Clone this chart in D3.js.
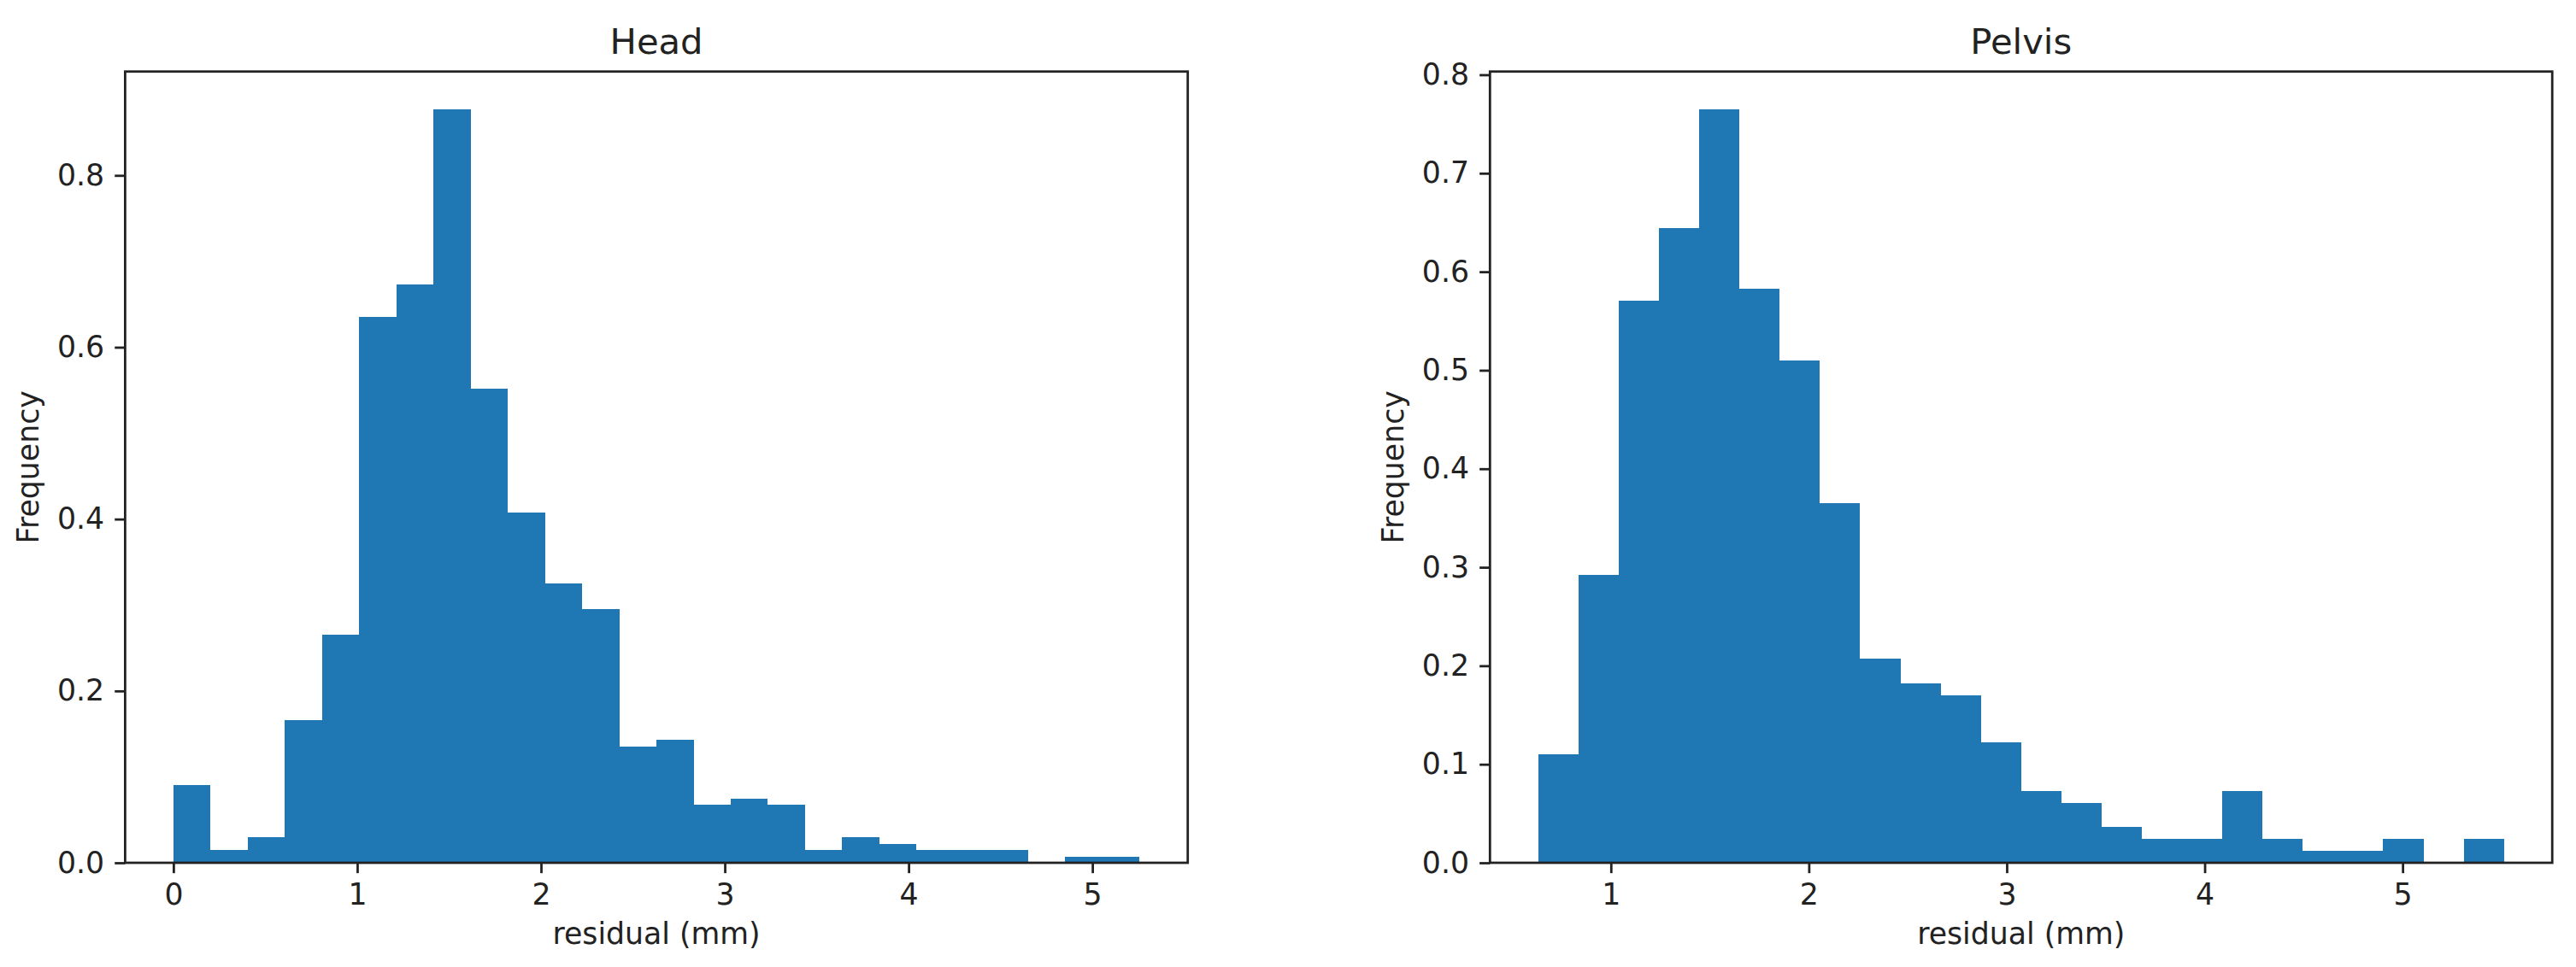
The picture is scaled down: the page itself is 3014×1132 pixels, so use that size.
<!DOCTYPE html>
<html>
<head>
<meta charset="utf-8">
<script src="https://cdn.jsdelivr.net/npm/d3@7"></script>
<style>
  html, body { margin: 0; padding: 0; background: #fff; }
  svg { display: block; }
  text { font-family: "DejaVu Sans", sans-serif; fill: #222; }
</style>
</head>
<body>
<svg id="chart" width="3014" height="1132"></svg>
<script>
// ---------- data ----------
const titles = ["Head", "Pelvis"];
const xLabel = "residual (mm)";
const yLabel = "Frequency";

// Head histogram: 26 bins spanning 0 .. 5.256 mm (density)
const headRange = [0, 5.256];
const headDensity = [0.090, 0.015, 0.030, 0.166, 0.265, 0.635, 0.673, 0.877, 0.552, 0.408,
                     0.325, 0.295, 0.135, 0.143, 0.068, 0.075, 0.068, 0.015, 0.030, 0.022,
                     0.015, 0.015, 0.015, 0.000, 0.007, 0.007];
const headXTicks = [0, 1, 2, 3, 4, 5];
const headYTicks = [0.0, 0.2, 0.4, 0.6, 0.8];

// Pelvis histogram: 24 bins spanning 0.633 .. 5.512 mm (density)
const pelvisRange = [0.633, 5.512];
const pelvisDensity = [0.110, 0.292, 0.571, 0.644, 0.765, 0.583, 0.510, 0.365, 0.207, 0.182,
                       0.170, 0.122, 0.073, 0.061, 0.036, 0.024, 0.024, 0.073, 0.024, 0.012,
                       0.012, 0.024, 0.000, 0.024];
const pelvisXTicks = [1, 2, 3, 4, 5];
const pelvisYTicks = [0.0, 0.1, 0.2, 0.3, 0.4, 0.5, 0.6, 0.7, 0.8];

// ---------- layout ----------
(function () {
const svg = d3.select("#chart");
const barColor = "#1f77b4";
const ink = "#222";
const plotTop = 83.75, plotBottom = 1010;
const panels = [
  { title: titles[0], range: headRange, dens: headDensity, xt: headXTicks, yt: headYTicks, left: 146.4, right: 1389.7 },
  { title: titles[1], range: pelvisRange, dens: pelvisDensity, xt: pelvisXTicks, yt: pelvisYTicks, left: 1743.3, right: 2986.2 }
];
const tickLen = 12.15, tickPad = 12.15, lw = 2.78;
const tickFont = 34.7, titleFont = 41.7;

panels.forEach(p => {
  const n = p.dens.length;
  const w = (p.range[1] - p.range[0]) / n;
  const bins = p.dens.map((v, i) => ({ x0: p.range[0] + i * w, x1: p.range[0] + (i + 1) * w, v }));
  const span = p.range[1] - p.range[0];
  const x = d3.scaleLinear()
    .domain([p.range[0] - 0.05 * span, p.range[1] + 0.05 * span])
    .range([p.left, p.right]);
  const y = d3.scaleLinear()
    .domain([0, d3.max(p.dens) * 1.05])
    .range([plotBottom, plotTop]);

  const g = svg.append("g");

  // bars
  g.append("g").selectAll("rect")
    .data(bins.filter(b => b.v > 0))
    .join("rect")
    .attr("x", d => x(d.x0))
    .attr("width", d => x(d.x1) - x(d.x0))
    .attr("y", d => y(d.v))
    .attr("height", d => y(0) - y(d.v))
    .attr("fill", barColor)
    .attr("shape-rendering", "crispEdges");

  // x axis
  const xa = g.append("g")
    .attr("transform", `translate(0,${plotBottom})`)
    .call(d3.axisBottom(x).tickValues(p.xt).tickFormat(d3.format("d"))
      .tickSize(tickLen).tickPadding(tickPad));
  xa.select(".domain").remove();
  xa.selectAll(".tick line").attr("stroke", ink).attr("stroke-width", lw);
  xa.selectAll(".tick text").attr("font-size", tickFont).attr("font-family", "DejaVu Sans").attr("fill", ink);

  // y axis
  const ya = g.append("g")
    .attr("transform", `translate(${p.left},0)`)
    .call(d3.axisLeft(y).tickValues(p.yt).tickFormat(d3.format(".1f"))
      .tickSize(tickLen).tickPadding(tickPad));
  ya.select(".domain").remove();
  ya.selectAll(".tick line").attr("stroke", ink).attr("stroke-width", lw);
  ya.selectAll(".tick text").attr("font-size", tickFont).attr("font-family", "DejaVu Sans").attr("fill", ink);

  // frame (spines)
  g.append("rect")
    .attr("x", p.left).attr("y", plotTop)
    .attr("width", p.right - p.left).attr("height", plotBottom - plotTop)
    .attr("fill", "none").attr("stroke", ink).attr("stroke-width", lw);

  // title
  g.append("text")
    .attr("x", (p.left + p.right) / 2).attr("y", 63)
    .attr("text-anchor", "middle")
    .attr("font-size", titleFont)
    .text(p.title);

  // x label
  g.append("text")
    .attr("x", (p.left + p.right) / 2).attr("y", 1105)
    .attr("text-anchor", "middle")
    .attr("font-size", tickFont)
    .text(xLabel);

  // y label
  const ly = (plotTop + plotBottom) / 2;
  const lx = p.left - 101;
  g.append("text")
    .attr("transform", `translate(${lx},${ly}) rotate(-90)`)
    .attr("text-anchor", "middle")
    .attr("font-size", tickFont)
    .text(yLabel);
});
})();
</script>
</body>
</html>
